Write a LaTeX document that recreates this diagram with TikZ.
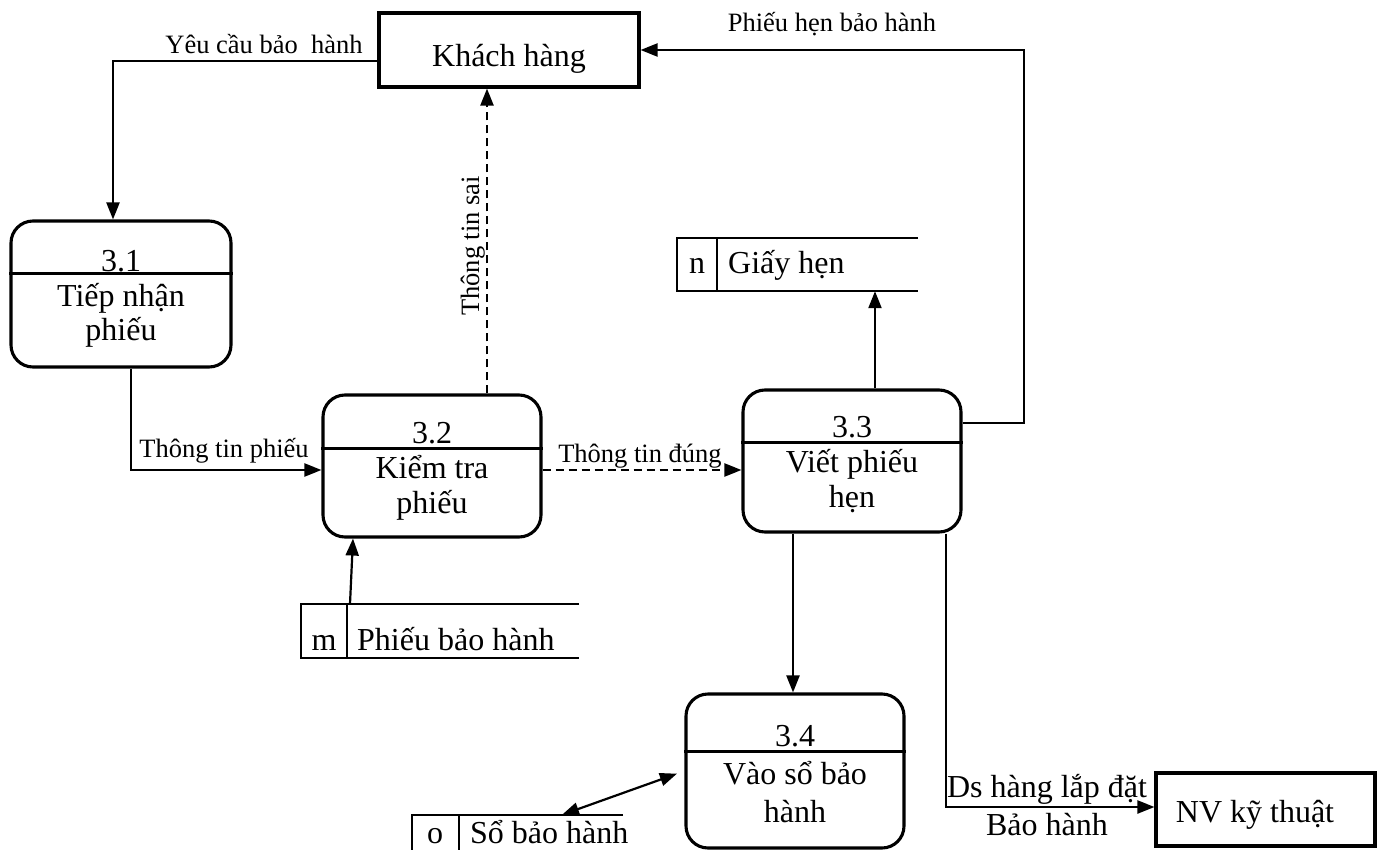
\documentclass[tikz,border=0pt]{standalone}
\usepackage{fontspec}
\setmainfont{Liberation Serif}
\usetikzlibrary{arrows.meta}
\begin{document}
\begin{tikzpicture}[x=1pt,y=-1pt,
  proc/.style={draw,line width=3.1pt,rounded corners=22pt,inner sep=0pt},
  ext/.style={draw,line width=3.1pt,inner sep=0pt},
  area/.style={inner sep=0pt},
  divider/.style={line width=3pt},
  storeline/.style={line width=1.6pt},
  big/.style={font=\fontsize{32}{38}\selectfont,inner sep=0pt},
  small/.style={font=\fontsize{26.5}{32}\selectfont,inner sep=0pt},
  tip/.tip={Triangle[length=17pt,width=13pt]},
  flow/.style={line width=2.2pt,-tip},
  dflow/.style={line width=2.2pt,-tip,dash pattern=on 8pt off 5pt},
  bflow/.style={line width=2.2pt,tip-tip}]
\useasboundingbox (0,0) rectangle (1380,850);

% external entities
\node[ext,minimum width=260pt,minimum height=74pt] (kh) at (509,50) {};
\node[big,anchor=base] (khT) at (509,67) {Khách hàng};
\node[ext,minimum width=219pt,minimum height=73pt] (nv) at (1265.5,809.5) {};
\node[big,anchor=base] (nvT) at (1255,822) {NV kỹ thuật};

% processes
\node[proc,minimum width=220pt,minimum height=146pt] (p31) at (121,294) {};
\draw[divider] (p31.west |- 0,273) -- (p31.east |- 0,273);
\node[big,anchor=base] (p31a) at (121,271) {3.1};
\node[big,anchor=base] (p31b) at (121,306) {Tiếp nhận};
\node[big,anchor=base] (p31c) at (121,340) {phiếu};

\node[proc,minimum width=218pt,minimum height=142pt] (p32) at (432,466) {};
\draw[divider] (p32.west |- 0,448) -- (p32.east |- 0,448);
\node[big,anchor=base] (p32a) at (432,443) {3.2};
\node[big,anchor=base] (p32b) at (432,478) {Kiểm tra};
\node[big,anchor=base] (p32c) at (432,513) {phiếu};

\node[proc,minimum width=218pt,minimum height=142pt] (p33) at (852,461) {};
\draw[divider] (p33.west |- 0,442) -- (p33.east |- 0,442);
\node[big,anchor=base] (p33a) at (852,437) {3.3};
\node[big,anchor=base] (p33b) at (852,472) {Viết phiếu};
\node[big,anchor=base] (p33c) at (852,507) {hẹn};

\node[proc,minimum width=218pt,minimum height=154pt] (p34) at (795,771) {};
\draw[divider] (p34.west |- 0,751) -- (p34.east |- 0,751);
\node[big,anchor=base] (p34a) at (795,746) {3.4};
\node[big,anchor=base] (p34b) at (795,784) {Vào sổ bảo};
\node[big,anchor=base] (p34c) at (795,822) {hành};

% data stores
\node[area,minimum width=241pt,minimum height=53pt] (gh) at (797.5,264.5) {};
\draw[storeline] (gh.north east) -- (gh.north west) -- (gh.south west) -- (gh.south east);
\draw[storeline] (gh.north west) ++(40,0) -- ++(0,53);
\node[big,anchor=base] (ghI) at (697,273) {n};
\node[big,anchor=base west] (ghT) at (728,273) {Giấy hẹn};

\node[area,minimum width=278pt,minimum height=54pt] (pb) at (440,631) {};
\draw[storeline] (pb.north east) -- (pb.north west) -- (pb.south west) -- (pb.south east);
\draw[storeline] (pb.north west) ++(46,0) -- ++(0,54);
\node[big,anchor=base] (pbI) at (324,650) {m};
\node[big,anchor=base west] (pbT) at (357,650) {Phiếu bảo hành};

\node[area,minimum width=211pt,minimum height=44pt] (sb) at (517.5,837) {};
\draw[storeline] (sb.north east) -- (sb.north west) -- (sb.south west) -- (sb.south east);
\draw[storeline] (sb.north west) ++(47,0) -- ++(0,44);
\node[big,anchor=base] (sbI) at (435,843) {o};
\node[big,anchor=base west] (sbT) at (470,843) {Sổ bảo hành};

% bend points of the flows
\coordinate (c1) at (113,61);
\coordinate (c2) at (131,470);
\coordinate (c3) at (487,0);
\coordinate (c5) at (1024,423);
\coordinate (c6) at (1024,50);
\coordinate (c7) at (875,0);
\coordinate (c8) at (793,0);
\coordinate (c9) at (946,807);
\coordinate (t0) at (350,0);
\coordinate (t1) at (353,0);
\coordinate (d1) at (562,0);
\coordinate (d2) at (0,771);

% flows
\draw[flow] (kh.west |- c1) -- (c1) -- (c1 |- p31.north);
\node[small,anchor=base] (l1) at (264,54) {Yêu cầu bảo\ \ hành};

\draw[flow] (p31.south -| c2) -- (c2) -- (c2 -| p32.west);
\node[small,anchor=base] (l2) at (224,457) {Thông tin phiếu};

\draw[dflow] (p32.north -| c3) -- (kh.south -| c3);
\node[small,anchor=base,rotate=90] (l3) at (479,246) {Thông tin sai};

\draw[dflow] (p32.east |- c2) -- (p33.west |- c2);
\node[small,anchor=base] (l4) at (640,462) {Thông tin đúng};

\draw[flow] (p33.east |- c5) -- (c5) -- (c6) -- (c6 -| kh.east);
\node[small,anchor=base] (l5) at (832,32) {Phiếu hẹn bảo hành};

\draw[flow] (p33.north -| c7) -- (gh.south -| c7);
\draw[flow] (pb.north -| t0) -- (p32.south -| t1);
\draw[flow] (p33.south -| c8) -- (p34.north -| c8);
\draw[bflow,shorten >=8pt] (sb.north -| d1) -- (p34.west |- d2);

\draw[flow] (p33.south -| c9) -- (c9) -- (c9 -| nv.west);
\node[big,anchor=base] (l6) at (1047,797) {Ds hàng lắp đặt};
\node[big,anchor=base] (l7) at (1047,835) {Bảo hành};
\end{tikzpicture}
\end{document}
